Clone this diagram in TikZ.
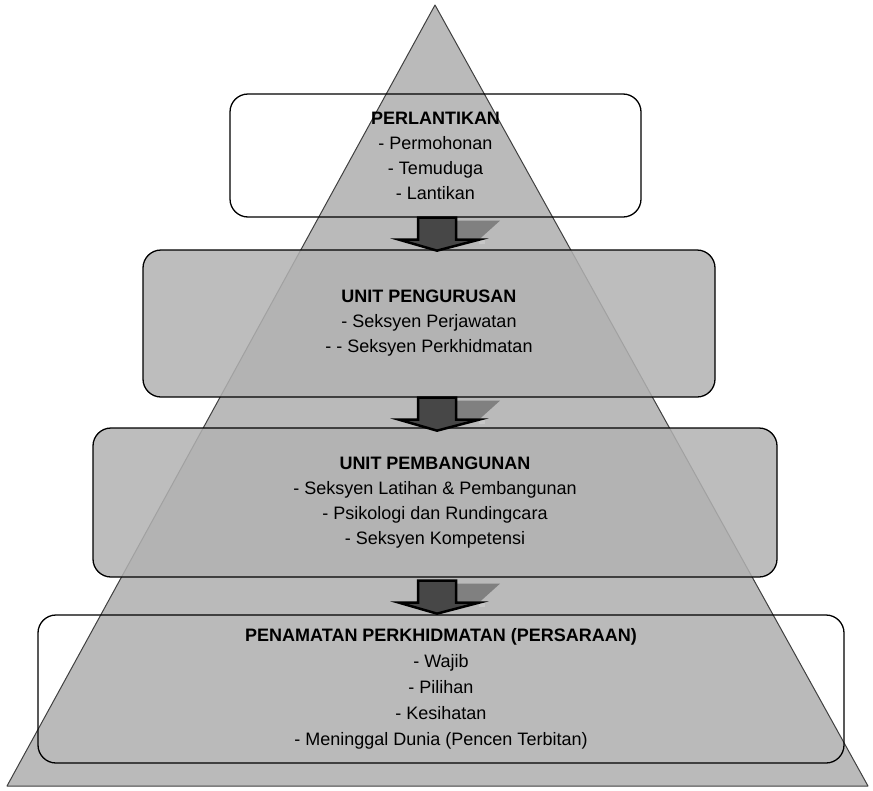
\documentclass[tikz,border=0pt]{standalone}
\usepackage{fontspec}
\setmainfont{Liberation Sans}
\usetikzlibrary{calc}
\begin{document}
\begin{tikzpicture}[x=1pt,y=-1pt,
  stage/.style={draw=black, line width=1.3pt, rounded corners=18pt, inner sep=0pt,
    align=center, font=\fontsize{18}{25}\selectfont, text opacity=1},
  shaded/.style={fill=black!30, fill opacity=0.85},
  pyramid/.style={fill=black!27, draw=black!75, line width=1pt, line join=round},
  arrowface/.style={fill=black!72, draw=black, line width=2.5pt, line join=miter},
  arrowside/.style={fill=black!50},
  blockarrow/.pic={
    \path[arrowside] (20,3) -- (63,3) -- (43,21) -- (20,21) -- cycle;
    \path[arrowside, fill=black!22] (42,22) -- (48,22) -- (48,26) -- (42,26) -- cycle;
    \path[arrowface] (-19,0) -- (19,0) -- (19,22) -- (42,22) -- (0,33) -- (-38,22) -- (-19,22) -- cycle;
  }]
\useasboundingbox (0,0) rectangle (873,790);

% the pyramid behind the stages
\coordinate (apex) at (435,5);
\coordinate (baseL) at (7,786);
\coordinate (baseR) at (868,786);
\path[pyramid] (apex) -- (baseR) -- (baseL) -- cycle;

% vertical axis of the block arrows
\coordinate (axis) at (437,0);

% stages
\node[stage, minimum width=411pt, minimum height=123pt] (b1) at (435.5,155.5)
  {\textbf{PERLANTIKAN}\\- Permohonan\\- Temuduga\\- Lantikan};
\node[stage, shaded, minimum width=572pt, minimum height=147pt] (b2) at (429,323.5)
  {\textbf{UNIT PENGURUSAN}\\- Seksyen Perjawatan\\- - Seksyen Perkhidmatan};
\node[stage, shaded, minimum width=684pt, minimum height=149pt] (b3) at (435,502.5)
  {\textbf{UNIT PEMBANGUNAN}\\- Seksyen Latihan \& Pembangunan\\- Psikologi dan Rundingcara\\- Seksyen Kompetensi};
\node[stage, minimum width=806pt, minimum height=148pt] (b4) at (441,689)
  {\textbf{PENAMATAN PERKHIDMATAN (PERSARAAN)}\\[1pt]- Wajib\\[1pt]- Pilihan\\[1pt]- Kesihatan\\[1pt]- Meninggal Dunia (Pencen Terbitan)};

% block arrows between the stages
\pic at (axis |- b1.south) {blockarrow};
\pic at (axis |- b2.south) {blockarrow};
\pic at ($(axis |- b3.south)+(0,3)$) {blockarrow};
\end{tikzpicture}
\end{document}
